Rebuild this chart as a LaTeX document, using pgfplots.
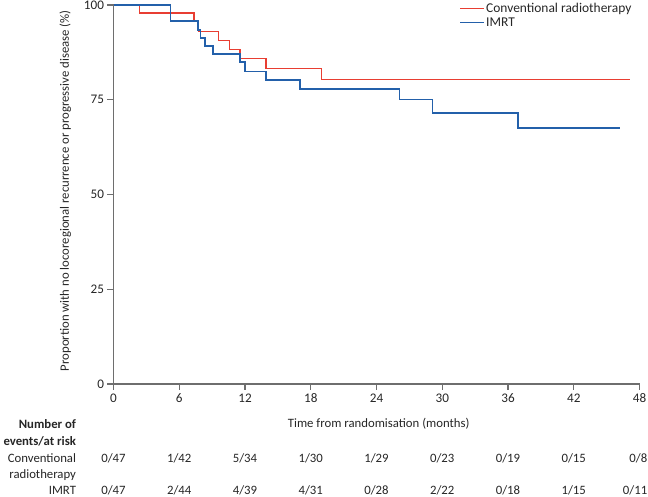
\documentclass[border=0pt]{standalone}
\usepackage{pgfplots}
\pgfplotsset{compat=1.18}
\usepackage{fontspec}
\setmainfont{Carlito}
\definecolor{convred}{RGB}{232,62,50}
\definecolor{imrtblue}{RGB}{35,96,170}
\definecolor{axgray}{RGB}{110,110,110}
\newcommand{\fs}{\fontsize{12.8}{14}\selectfont}
\tikzset{lab/.style={anchor=east, font=\fs, text=black!85},
  num/.style={font=\fs, text=black!85}}
\begin{document}
\begin{tikzpicture}
\path[use as bounding box] (0,0) rectangle (648bp,497bp);
\begin{axis}[
  at={(113.5bp,113bp)}, anchor=south west,
  scale only axis, width=526bp, height=379bp,
  xmin=0, xmax=48, ymin=0, ymax=100,
  axis lines*=left,
  axis line style={axgray, line width=1.6pt},
  tick style={axgray, line width=1.1pt},
  tick align=outside, major tick length=6bp,
  xtick={0,6,...,48}, ytick={0,25,50,75,100},
  /pgf/number format/assume math mode=true,
  tick label style={font=\fontsize{13.2}{14}\selectfont, text=black!85},
  clip=false,
  legend style={draw=none, fill=none, at={(axis cs:31.55,100.9)}, anchor=north west,
    font=\fontsize{13.5}{14}\selectfont, row sep=0.5bp, inner sep=0pt,
    nodes={inner sep=1.5bp, text=black!85}},
  legend cell align=left,
  legend image code/.code={\draw[#1, line width=1.3pt] (0bp,0bp) -- (24bp,0bp);},
]
\addplot[const plot, convred, line width=1.5pt] coordinates {
(0,100) (2.35,97.9) (7.35,95.6) (7.74,93.0) (9.57,90.6) (10.6,88.3) (11.55,85.9) (13.9,83.3) (19.0,80.4) (47.1,80.4)};
\addlegendentry{Conventional radiotherapy}
\addplot[const plot, imrtblue, line width=1.5pt] coordinates {
(0,100) (5.2,95.8) (7.7,93.4) (7.95,91.3) (8.35,89.2) (9.1,87.1) (11.55,84.9) (12.0,82.5) (13.9,80.2) (17.0,77.8) (26.1,75.0) (29.1,71.5) (36.9,67.5) (46.25,67.5)};
\addlegendentry{IMRT}

\node[rotate=90, font=\fs, text=black!85] at (axis cs:-4.4,51) {Proportion with no locoregional recurrence or progressive disease (\%)};
\node[font=\fs, text=black!85] at (axis cs:24.2,-10.6) {Time from randomisation (months)};

\node[lab, font=\fs\bfseries] at (axis cs:-3.1,-10.6) {Number of};
\node[lab, font=\fs\bfseries] at (axis cs:-3.1,-15.2) {events/at risk};
\node[lab] at (axis cs:-3.1,-19.6) {Conventional};
\node[lab] at (axis cs:-3.1,-24.0) {radiotherapy};
\node[lab] at (axis cs:-3.1,-28.0) {IMRT};

\node[num] at (axis cs:0,-19.6) {0/47};
\node[num] at (axis cs:6,-19.6) {1/42};
\node[num] at (axis cs:12,-19.6) {5/34};
\node[num] at (axis cs:18,-19.6) {1/30};
\node[num] at (axis cs:24,-19.6) {1/29};
\node[num] at (axis cs:30,-19.6) {0/23};
\node[num] at (axis cs:36,-19.6) {0/19};
\node[num] at (axis cs:42,-19.6) {0/15};
\node[num] at (axis cs:47.9,-19.6) {0/8};
\node[num] at (axis cs:0,-28.0) {0/47};
\node[num] at (axis cs:6,-28.0) {2/44};
\node[num] at (axis cs:12,-28.0) {4/39};
\node[num] at (axis cs:18,-28.0) {4/31};
\node[num] at (axis cs:24,-28.0) {0/28};
\node[num] at (axis cs:30,-28.0) {2/22};
\node[num] at (axis cs:36,-28.0) {0/18};
\node[num] at (axis cs:42,-28.0) {1/15};
\node[num] at (axis cs:47.6,-28.0) {0/11};
\end{axis}
\end{tikzpicture}
\end{document}
